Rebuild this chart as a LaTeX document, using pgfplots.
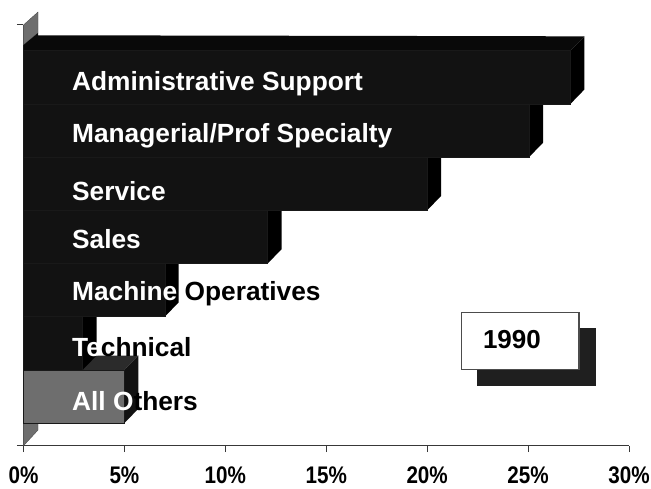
\documentclass[border=0pt]{standalone}
\usepackage{pgfplots}
\pgfplotsset{compat=1.18}
\usepackage{fontspec}
\setmainfont{Liberation Sans}
\definecolor{frontdark}{gray}{0.07}
\definecolor{topdark}{gray}{0.035}
\definecolor{sidedark}{gray}{0.0}
\definecolor{frontgray}{gray}{0.43}
\definecolor{topgray}{gray}{0.17}
\definecolor{sidegray}{gray}{0.07}
\definecolor{inkline}{gray}{0.22}
\pgfplotsset{
  front/.style={xbar, bar width=53.2pt, bar shift=0pt, fill=#1, draw=black!90, line width=0.5pt},
  face/.style={fill=#1, draw=none},
}
\newcommand{\barlabel}[2]{\node[anchor=base west, inner sep=0pt, font=\fontsize{26.3}{26.3}\selectfont\bfseries] at (axis cs:2.4,#1) {#2};}
\begin{document}
\begin{tikzpicture}
\useasboundingbox (-23.5pt,-42.3pt) rectangle (627.5pt,445.7pt);
\begin{axis}[
  scale only axis, width=605.5pt, height=420.7pt,
  xmin=0, xmax=30, ymin=-0.925, ymax=6.983,
  clip=false,
  axis x line=bottom, axis y line=left,
  axis line style={-, draw=inkline, line width=1pt},
  xtick={0,5,10,15,20,25,30},
  xticklabel={\scalebox{0.86}[1]{\bfseries\fontsize{24}{24}\selectfont\pgfmathprintnumber[assume math mode=true]{\tick}\%}},
  ytick={-0.925,6.983}, yticklabels={},
  tick style={draw=inkline, line width=1pt},
  tick align=outside,
  major tick length=6.5pt,
  x tick label style={yshift=-11pt},
]
% side wall of the plot box, seen above and below the bars
\addplot[face={frontgray}, draw=black!70, line width=0.4pt] coordinates {(0,6.983) (0.72,7.227) (0.72,6.833) (0,6.607)} --cycle;
\addplot[face={frontgray}, draw=black!70, line width=0.4pt] coordinates {(0,-0.5) (0.72,-0.5) (0.72,-0.63) (0,-0.925)} --cycle;

% All Others
\addplot[face={topgray}] coordinates {(0,0.5) (5.0,0.5) (5.69,0.77) (0.69,0.77)} --cycle;
\addplot[face={sidegray}] coordinates {(5.0,-0.5) (5.69,-0.23) (5.69,0.77) (5.0,0.5)} --cycle;
\addplot[front={frontgray}] coordinates {(5.0,0)};

% Technical
\addplot[face={topdark}] coordinates {(0,1.5) (2.93,1.5) (3.62,1.77) (0.69,1.77)} --cycle;
\addplot[face={sidedark}] coordinates {(2.93,0.5) (3.62,0.77) (3.62,1.77) (2.93,1.5)} --cycle;
\addplot[front={frontdark}] coordinates {(2.93,1)};

% Machine Operatives
\addplot[face={topdark}] coordinates {(0,2.5) (7.0,2.5) (7.69,2.77) (0.69,2.77)} --cycle;
\addplot[face={sidedark}] coordinates {(7.0,1.5) (7.69,1.77) (7.69,2.77) (7.0,2.5)} --cycle;
\addplot[front={frontdark}] coordinates {(7.0,2)};

% Sales
\addplot[face={topdark}] coordinates {(0,3.5) (12.1,3.5) (12.79,3.77) (0.69,3.77)} --cycle;
\addplot[face={sidedark}] coordinates {(12.1,2.5) (12.79,2.77) (12.79,3.77) (12.1,3.5)} --cycle;
\addplot[front={frontdark}] coordinates {(12.1,3)};

% Service
\addplot[face={topdark}] coordinates {(0,4.5) (20.0,4.5) (20.69,4.77) (0.69,4.77)} --cycle;
\addplot[face={sidedark}] coordinates {(20.0,3.5) (20.69,3.77) (20.69,4.77) (20.0,4.5)} --cycle;
\addplot[front={frontdark}] coordinates {(20.0,4)};

% Managerial/Prof Specialty
\addplot[face={topdark}] coordinates {(0,5.5) (25.05,5.5) (25.74,5.77) (0.69,5.77)} --cycle;
\addplot[face={sidedark}] coordinates {(25.05,4.5) (25.74,4.77) (25.74,5.77) (25.05,5.5)} --cycle;
\addplot[front={frontdark}] coordinates {(25.05,5)};

% Administrative Support, whose top face runs up against the wall
\addplot[face={topdark}] coordinates {(0,6.5) (27.1,6.5) (27.79,6.77) (0.72,6.79) (0.72,6.833) (0,6.607)} --cycle;
\addplot[face={sidedark}] coordinates {(27.1,5.5) (27.79,5.77) (27.79,6.77) (27.1,6.5)} --cycle;
\addplot[front={frontdark}] coordinates {(27.1,6)};

% category names, white where they lie on a bar
\barlabel{5.752}{\textcolor{white}{Administrative Support}}
\barlabel{4.765}{\textcolor{white}{Managerial/Prof Specialty}}
\barlabel{3.693}{\textcolor{white}{Service}}
\barlabel{2.773}{\textcolor{white}{Sales}}
\barlabel{1.795}{\textcolor{white}{Machine} \textcolor{black}{Operatives}}
\barlabel{0.745}{\textcolor{white}{Te}\textcolor{black}{chnical}}
\barlabel{-0.267}{\textcolor{white}{All O}\textcolor{black}{thers}}

% year key with its drop shadow
\fill[black!88] (axis cs:22.46,0.19) rectangle (axis cs:28.36,1.29);
\draw[draw=black!70, fill=white, line width=1.4pt] (axis cs:21.69,0.51) rectangle (axis cs:27.52,1.58);
\node[font=\fontsize{26}{26}\selectfont\bfseries, anchor=base, inner sep=0pt] at (axis cs:24.2,0.893) {1990};
\end{axis}
\end{tikzpicture}
\end{document}
